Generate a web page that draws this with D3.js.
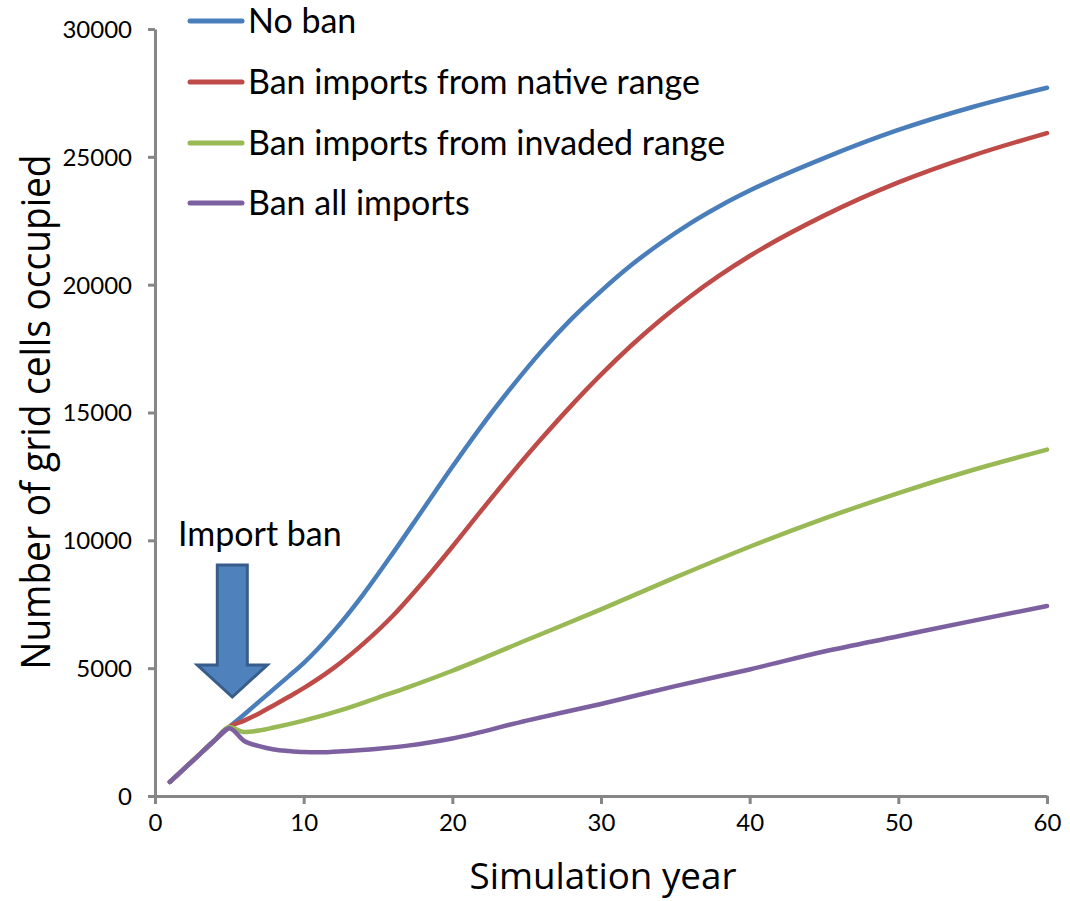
<!DOCTYPE html>
<html><head><meta charset="utf-8">
<script src="https://cdn.jsdelivr.net/npm/d3@7"></script>
<style>
body{margin:0;background:#fff;}
svg{display:block;}
</style></head>
<body>
<svg id="chart" width="1070" height="901"></svg>
<script>
const seriesNames = ["No ban","Ban imports from native range","Ban imports from invaded range","Ban all imports"];
const seriesColors = ["#4A7EBB","#BE4B48","#98B954","#7D60A0"];
const noBanYears  = [1,2,3,4,5,6,7,8,9,10,12,14,16,18,20,22,24,26,28,30,32,34,36,38,40,45,50,55,60];
const noBanValues = [550,1090,1630,2170,2700,3190,3690,4190,4690,5200,6430,7880,9500,11190,12880,14500,16000,17400,18650,19750,20750,21620,22400,23080,23680,24950,26050,26950,27700];
const nativeYears  = [1,2,3,4,5,6,7,8,9,10,12,14,16,18,20,22,24,26,28,30,32,34,36,38,40,45,50,55,60];
const nativeValues = [550,1090,1630,2170,2700,2950,3230,3550,3880,4220,5000,5950,7050,8350,9750,11200,12620,13980,15270,16480,17600,18620,19540,20370,21120,22700,24000,25050,25930];
const invadedYears  = [1,2,3,4,5,6,7,8,10,13,15,17,20,25,30,35,40,45,50,55,60];
const invadedValues = [550,1090,1630,2170,2700,2500,2560,2680,2950,3450,3850,4250,4900,6100,7300,8550,9750,10850,11850,12750,13550];
const allYears  = [1,2,3,4,5,6,7,8,9,10,11,12,13,15,17,20,25,30,35,40,45,50,55,60];
const allValues = [550,1090,1630,2170,2650,2150,1950,1820,1760,1720,1710,1730,1760,1850,1970,2250,2950,3600,4300,4950,5650,6250,6850,7430];
const xTicks = [0,10,20,30,40,50,60];
const yTicks = [0,5000,10000,15000,20000,25000,30000];

const series = [
  {name: seriesNames[0], color: seriesColors[0], years: noBanYears, values: noBanValues},
  {name: seriesNames[1], color: seriesColors[1], years: nativeYears, values: nativeValues},
  {name: seriesNames[2], color: seriesColors[2], years: invadedYears, values: invadedValues},
  {name: seriesNames[3], color: seriesColors[3], years: allYears, values: allValues}
];

const svg = d3.select("#chart");
const x = d3.scaleLinear().domain([0,60]).range([155,1047]);
const y = d3.scaleLinear().domain([0,30000]).range([796,29]);
const axisColor = "#868686";

// y axis
const yAxis = svg.append("g").attr("transform","translate(155,0)")
  .call(d3.axisLeft(y).tickValues(yTicks).tickSize(7).tickSizeOuter(0).tickPadding(16).tickFormat(d3.format("d")));
yAxis.select(".domain").attr("stroke",axisColor).attr("stroke-width",3);
yAxis.selectAll(".tick line").attr("stroke",axisColor).attr("stroke-width",3);
yAxis.selectAll(".tick text").attr("font-family","Lato, 'Open Sans'").attr("font-size",24).attr("fill","#000").attr("dy","0.35em");

// x axis
const xAxis = svg.append("g").attr("transform","translate(0,796)")
  .call(d3.axisBottom(x).tickValues(xTicks).tickSize(8).tickSizeOuter(0).tickPadding(10));
xAxis.select(".domain").attr("stroke",axisColor).attr("stroke-width",3);
xAxis.selectAll(".tick line").attr("stroke",axisColor).attr("stroke-width",3);
xAxis.selectAll(".tick text").attr("font-family","Lato, 'Open Sans'").attr("font-size",24).attr("fill","#000");

// axis titles
svg.append("text").attr("x",603).attr("y",889).attr("text-anchor","middle")
  .attr("font-family","'Liberation Sans Narrow', 'Open Sans'").attr("font-size",37)
  .attr("textLength",267).attr("lengthAdjust","spacingAndGlyphs").text("Simulation year");
svg.append("text").attr("transform","translate(50,412) rotate(-90)").attr("text-anchor","middle")
  .attr("font-family","'Liberation Sans Narrow', 'Open Sans'").attr("font-size",40)
  .attr("textLength",515).attr("lengthAdjust","spacingAndGlyphs").text("Number of grid cells occupied");

// lines
const line = d3.line().x(d=>x(d[0])).y(d=>y(d[1])).curve(d3.curveMonotoneX);
series.forEach(s=>{
  const pts = s.years.map((yr,i)=>[yr,s.values[i]]);
  svg.append("path").datum(pts).attr("d",line).attr("fill","none")
    .attr("stroke",s.color).attr("stroke-width",4.5).attr("stroke-linecap","round").attr("stroke-linejoin","round");
});

// legend
const legendY = [21,82,143,203];
series.forEach((s,i)=>{
  svg.append("line").attr("x1",190).attr("x2",242).attr("y1",legendY[i]).attr("y2",legendY[i])
    .attr("stroke",s.color).attr("stroke-width",5).attr("stroke-linecap","round");
  svg.append("text").attr("x",248).attr("y",legendY[i]+12).attr("font-family","Lato, 'Open Sans'")
    .attr("font-size",34).attr("fill","#000").text(s.name);
});

// annotation
svg.append("text").attr("x",178).attr("y",546).attr("font-family","Lato, 'Open Sans'").attr("font-size",34).text("Import ban");
const ax = x(5.2);
const arrow = d3.path();
arrow.moveTo(ax-15,565); arrow.lineTo(ax+15,565); arrow.lineTo(ax+15,665); arrow.lineTo(ax+35,665);
arrow.lineTo(ax,697); arrow.lineTo(ax-35,665); arrow.lineTo(ax-15,665); arrow.closePath();
svg.append("path").attr("d",arrow.toString()).attr("fill","#4F81BD").attr("stroke","#385D8A").attr("stroke-width",3).attr("stroke-linejoin","miter");
</script>
</body></html>
